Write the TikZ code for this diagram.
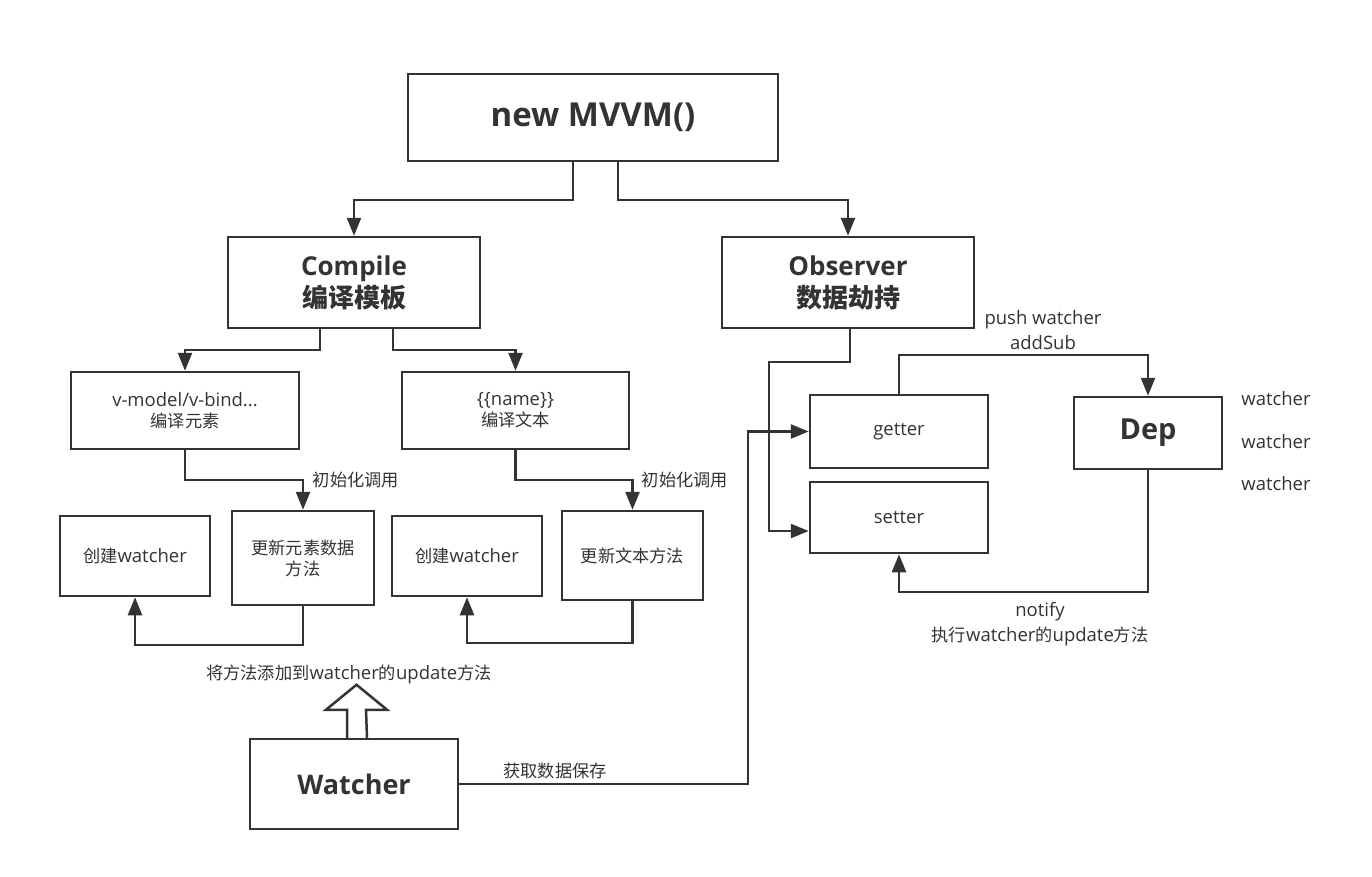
\documentclass[tikz,border=0pt]{standalone}
\usepackage{fontspec}
\setmainfont{Open Sans}
\newfontfamily\cjk[Scale=0.93]{Noto Sans CJK SC}
\newfontfamily\cjkb{Noto Sans CJK SC}
\newcommand\zh[1]{{\cjk #1}}
\newcommand\zhb[1]{{\cjkb #1}}
\usetikzlibrary{arrows.meta}
\definecolor{ink}{HTML}{333333}
\tikzset{
  box/.style={draw=ink, line width=2.5pt, inner sep=0pt, text=ink, align=center},
  conn/.style={draw=ink, line width=2.5pt},
  arr/.style={conn, -{Triangle[length=18pt,width=14pt]}},
  lbl/.style={text=ink, inner sep=0pt, align=center, font=\fontsize{18.5}{25}\selectfont},
  txt/.style={font=\fontsize{18.5}{21}\selectfont},
  big/.style={font=\bfseries\fontsize{26}{32}\selectfont},
}
\begin{document}
\begin{tikzpicture}[x=1pt,y=-1pt]
\useasboundingbox (0,0) rectangle (1372,876);
% nodes
\node[box, minimum width=370pt, minimum height=87pt, font=\bfseries\fontsize{33}{36}\selectfont] (mvvm) at (593,117.5) {new MVVM()};
\node[box, big, minimum width=252pt, minimum height=91pt] (compile) at (354,282.5) {Compile\\\zhb{编译模板}};
\node[box, big, minimum width=252pt, minimum height=91pt] (observer) at (848,282.5) {Observer\\\zhb{数据劫持}};
\node[box, txt, minimum width=228pt, minimum height=77pt] (vmodel) at (185,410.5) {v-model/v-bind...\\\zh{编译元素}};
\node[box, txt, minimum width=227pt, minimum height=77pt] (name) at (515.5,410.5) {\{\{name\}\}\\\zh{编译文本}};
\node[box, txt, minimum width=150pt, minimum height=80pt] (cw1) at (135,556) {\zh{创建}watcher};
\node[box, txt, minimum width=142pt, minimum height=94pt] (upd1) at (303,558) {\zh{更新元素数据}\\\zh{方法}};
\node[box, txt, minimum width=150pt, minimum height=80pt] (cw2) at (467,556) {\zh{创建}watcher};
\node[box, txt, minimum width=141pt, minimum height=89pt] (upd2) at (632.5,555.5) {\zh{更新文本方法}};
\node[box, txt, minimum width=178pt, minimum height=73pt] (getter) at (899,431.5) {getter};
\node[box, txt, minimum width=178pt, minimum height=71pt] (setter) at (899,517.5) {setter};
\node[box, minimum width=148pt, minimum height=72pt, font=\bfseries\fontsize{29}{32}\selectfont] (dep) at (1148,433) {Dep};
\node[box, minimum width=208pt, minimum height=90pt, font=\bfseries\fontsize{27}{32}\selectfont] (watcher) at (354,784) {Watcher};
% labels
\node[lbl] (l1) at (356,480) {\zh{初始化调用}};
\node[lbl] (l2) at (685,480) {\zh{初始化调用}};
\node[lbl] (l3) at (1043,330) {push watcher\\addSub};
\node[lbl] (l4) at (1040,624.5) {notify\\\zh{执行}watcher\zh{的}update\zh{方法}};
\node[lbl] (l5) at (349,674) {\zh{将方法添加到}watcher\zh{的}update\zh{方法}};
\node[lbl] (l6) at (555,771) {\zh{获取数据保存}};
\node[lbl] (w1) at (1276,399) {watcher};
\node[lbl] (w2) at (1276,442) {watcher};
\node[lbl] (w3) at (1276,484) {watcher};
% connectors
\coordinate (m1) at (573,200);
\coordinate (m2) at (618,200);
\draw[arr] (m1 |- mvvm.south) -- (m1) -| (compile.north);
\draw[arr] (m2 |- mvvm.south) -- (m2) -| (observer.north);
\coordinate (c1) at (320,350);
\coordinate (c2) at (393,350);
\draw[arr] (c1 |- compile.south) -- (c1) -| (vmodel.north);
\draw[arr] (c2 |- compile.south) -- (c2) -| (name.north);
\draw[arr] (vmodel.south) -- (vmodel.south |- 0,480) -| (upd1.north);
\draw[arr] (name.south) -- (name.south |- 0,480) -| (upd2.north);
\draw[arr] (upd1.south) -- (upd1.south |- 0,645) -| (cw1.south);
\draw[arr] (upd2.south) -- (upd2.south |- 0,643) -| (cw2.south);
\coordinate (o1) at (850,362);
\coordinate (o2) at (769,362);
\draw[arr] (o1 |- observer.south) -- (o1) -- (o2) -- (o2 |- 0,531) -- (setter.west |- 0,531);
\coordinate (g1) at (748,784);
\draw[arr] (watcher.east |- g1) -- (g1) -- (g1 |- getter.west) -- (getter.west);
\draw[arr] (getter.north) -- (getter.north |- 0,355) -| (dep.north);
\draw[arr] (dep.south) -- (dep.south |- 0,592) -| (setter.south);
% hollow arrow
\draw[conn, fill=white, line join=miter] ([xshift=-7pt]watcher.north) -- ++(0,-28) -- ++(-21,0) -- ++(30.5,-25) -- ++(30.5,25) -- ++(-21,0) -- ([xshift=13pt]watcher.north);
\end{tikzpicture}
\end{document}
